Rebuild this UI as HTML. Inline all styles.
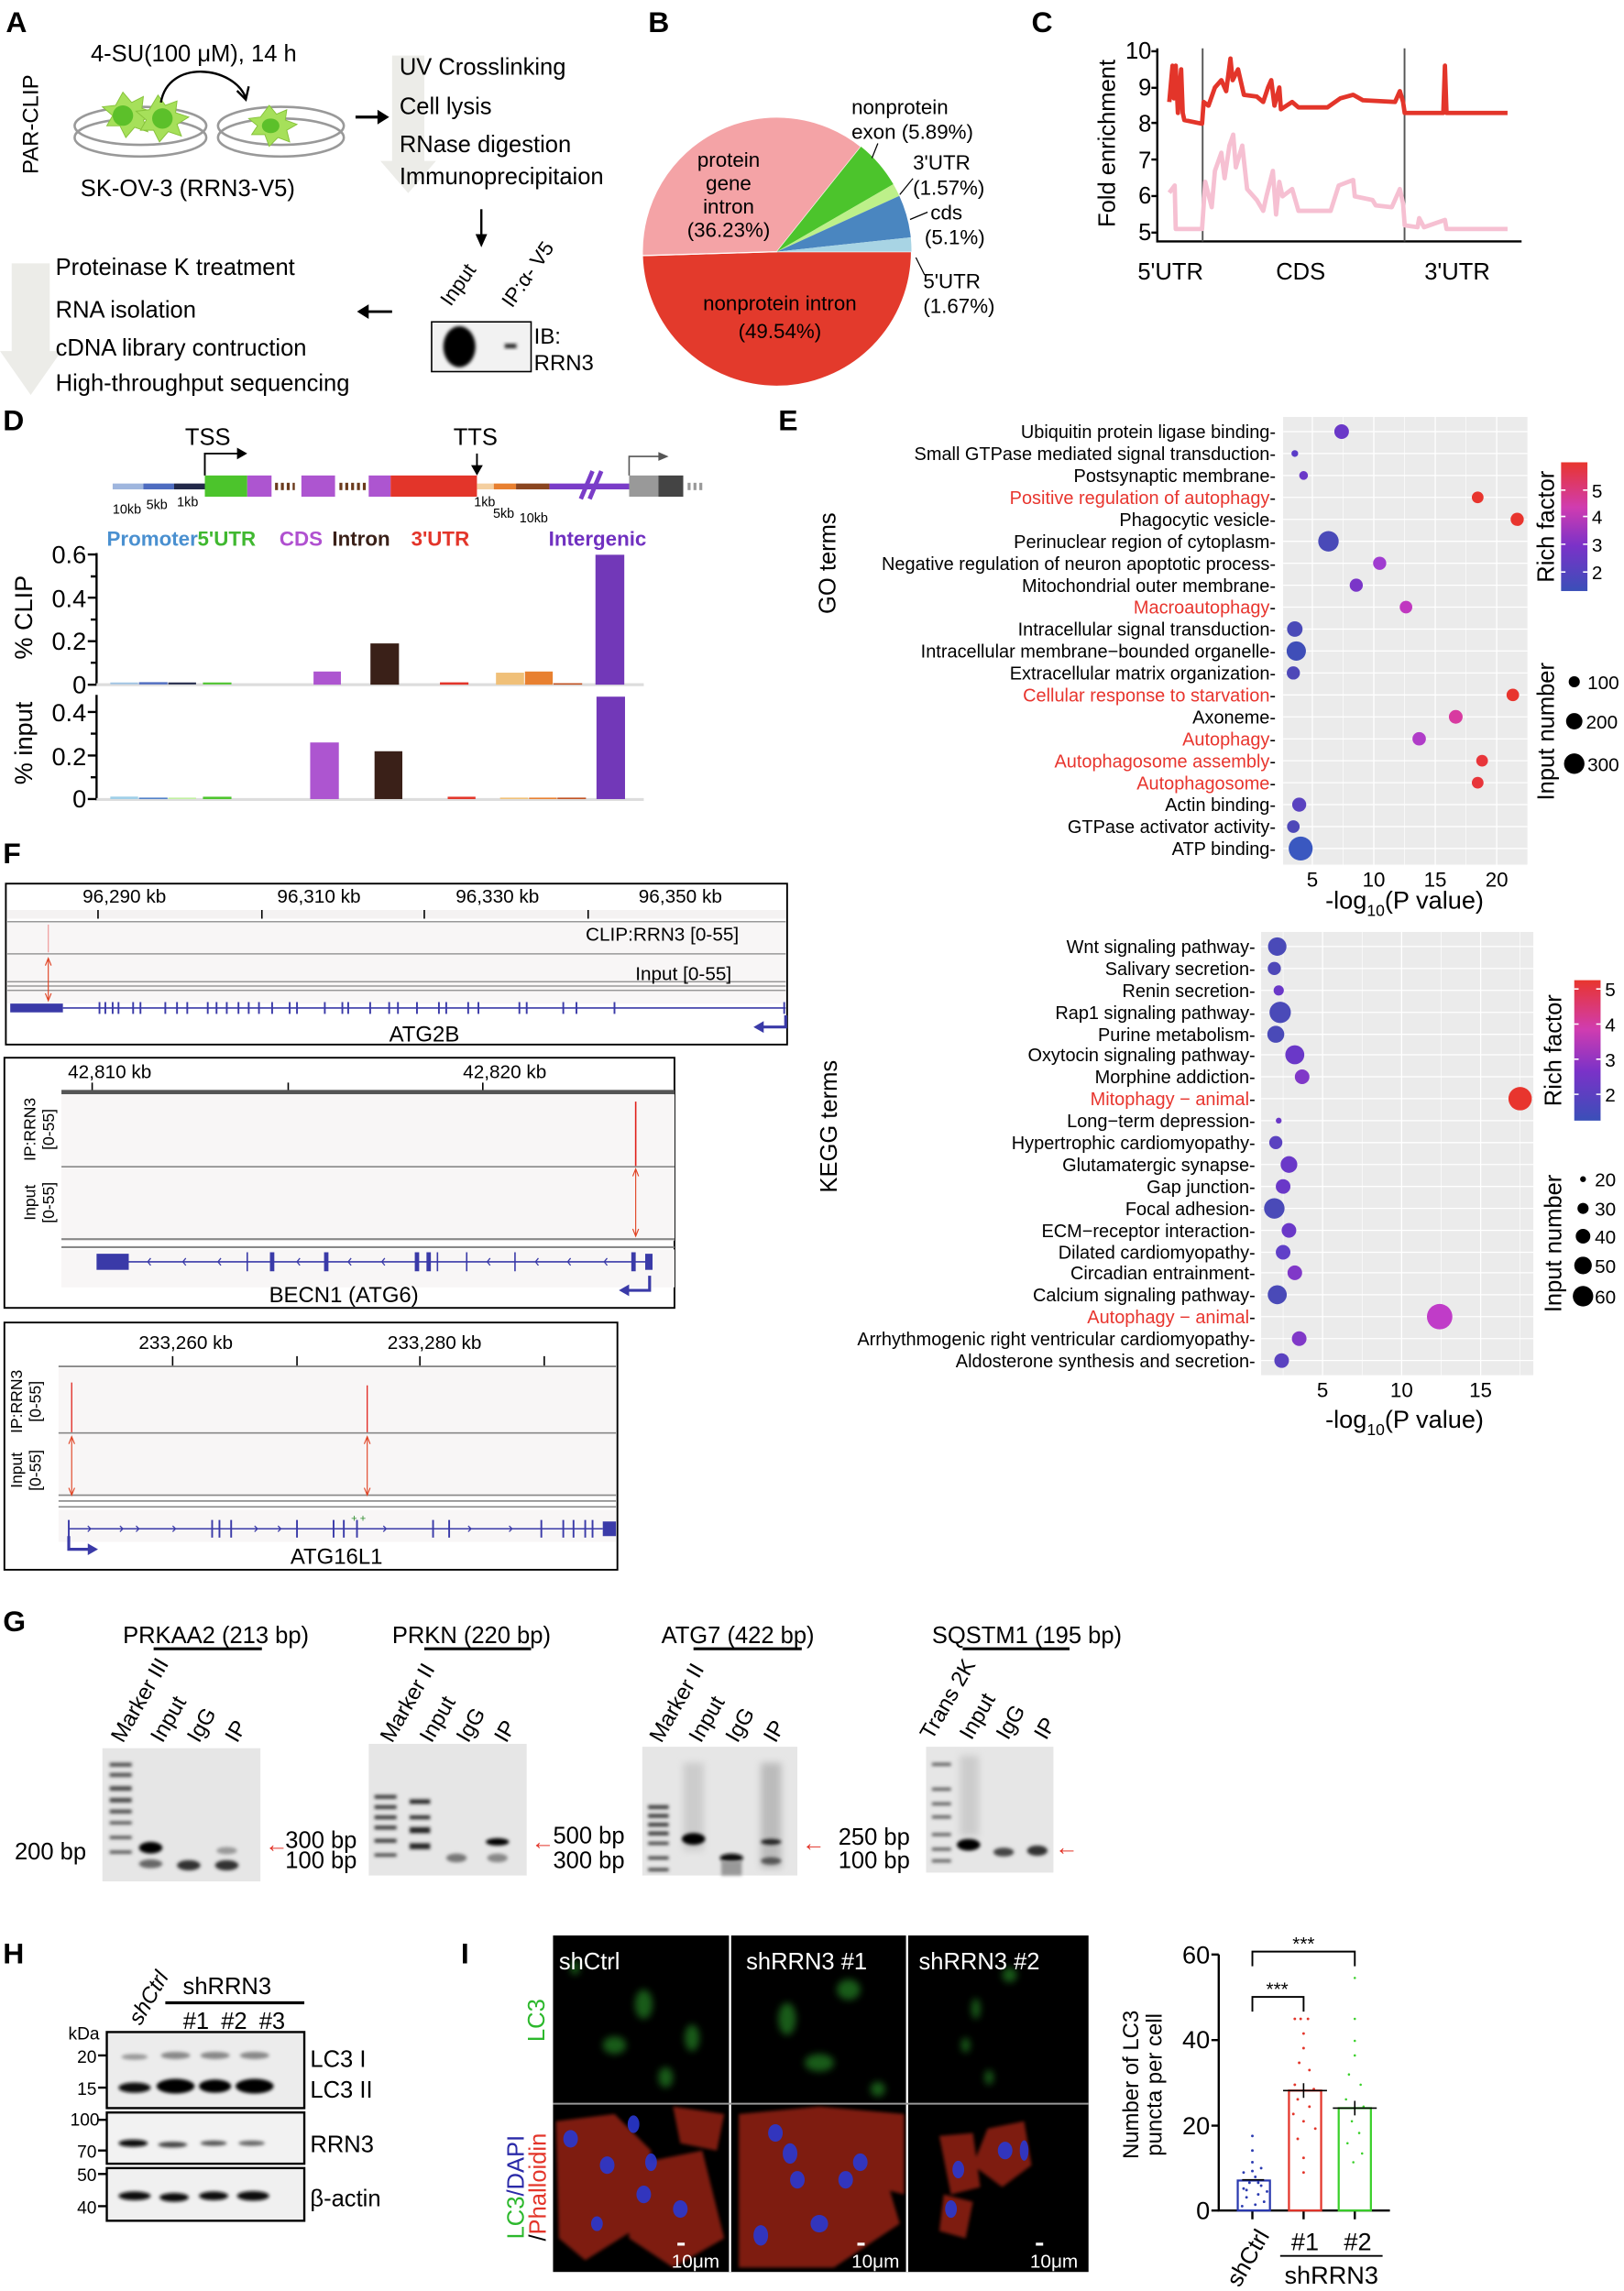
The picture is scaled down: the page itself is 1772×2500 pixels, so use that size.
<!DOCTYPE html>
<html><head><meta charset="utf-8"><style>
html,body{margin:0;padding:0;background:#fff}
svg{display:block}
text{font-family:"Liberation Sans",Arial,sans-serif}
</style></head><body>
<svg width="1772" height="2500" viewBox="0 0 1110 1566" xmlns="http://www.w3.org/2000/svg">
<defs>
<filter id="bl" x="-50%" y="-50%" width="200%" height="200%"><feGaussianBlur stdDeviation="1.2"/></filter>
<filter id="bl2" x="-50%" y="-50%" width="200%" height="200%"><feGaussianBlur stdDeviation="2.5"/></filter>
<linearGradient id="rf" x1="0" y1="1" x2="0" y2="0"><stop offset="0" stop-color="#3a4fb8"/><stop offset="0.35" stop-color="#7a32c8"/><stop offset="0.65" stop-color="#d03cb0"/><stop offset="1" stop-color="#e8352e"/></linearGradient>
</defs>
<rect width="1110" height="1566" fill="#fff"/>

<!-- ================= A ================= -->
<text x="4" y="22" font-size="20" font-weight="bold">A</text>
<text transform="translate(26,85) rotate(-90)" font-size="15" text-anchor="middle">PAR-CLIP</text>
<text x="62" y="42" font-size="16">4-SU(100 μM),  14 h</text>
<g fill="none" stroke="#999" stroke-width="1.6">
<ellipse cx="96" cy="86" rx="45" ry="13"/><ellipse cx="96" cy="94" rx="45" ry="13"/>
<ellipse cx="192" cy="86" rx="43" ry="13"/><ellipse cx="192" cy="94" rx="43" ry="13"/>
</g>
<g fill="#a6e05a" stroke="#86c23a" stroke-width="0.6">
<polygon points="84,63 90,70 98,66 97,74 106,77 98,82 101,90 92,87 86,94 82,86 73,86 77,79 70,73 79,72"/>
<polygon points="108,65 113,72 121,69 120,77 129,80 121,85 124,93 115,90 109,97 105,89 96,89 100,82 93,76 102,75"/>
<polygon points="184,72 189,78 196,75 195,82 203,85 196,89 198,97 190,94 184,100 181,92 172,92 176,86 170,81 178,80"/>
</g>
<ellipse cx="84" cy="79" rx="7" ry="7" fill="#5cc02a"/><ellipse cx="111" cy="81" rx="7" ry="7" fill="#5cc02a"/><ellipse cx="185" cy="86" rx="6" ry="5" fill="#5cc02a"/>
<path d="M110,70 C115,40 160,45 168,67" fill="none" stroke="#000" stroke-width="1.5"/>
<path d="M162,62 L168,68 L170,59" fill="none" stroke="#000" stroke-width="1.5"/>
<text x="55" y="134" font-size="16">SK-OV-3 (RRN3-V5)</text>
<path d="M243,80 L262,80" stroke="#000" stroke-width="2"/><polygon points="266,80 258,75 258,85" fill="#000"/>
<polygon points="268,38 290,38 290,110 298,110 279,132 260,110 268,110" fill="#ecece8"/>
<text x="273" y="51" font-size="16">UV Crosslinking</text>
<text x="273" y="78" font-size="16">Cell lysis</text>
<text x="273" y="104" font-size="16">RNase digestion</text>
<text x="273" y="126" font-size="16">Immunoprecipitaion</text>
<path d="M329,143 L329,165" stroke="#000" stroke-width="1.5"/><polygon points="329,169 325,160 333,160" fill="#000"/>
<text transform="translate(308,210) rotate(-55)" font-size="14">Input</text>
<text transform="translate(350,211) rotate(-55)" font-size="14">IP:α- V5</text>
<rect x="295" y="220" width="68" height="34" fill="#f2f2f2" stroke="#000" stroke-width="1"/>
<ellipse cx="314" cy="237" rx="11" ry="14" fill="#000" filter="url(#bl)"/>
<rect x="345" y="235" width="8" height="3" fill="#222" filter="url(#bl)"/>
<text x="365" y="235" font-size="15">IB:</text><text x="365" y="253" font-size="15">RRN3</text>
<path d="M250,213 L268,213" stroke="#000" stroke-width="1.8"/><polygon points="244,213 252,208 252,218" fill="#000"/>
<polygon points="8,180 34,180 34,240 42,240 21,270 0,240 8,240" fill="#ecece8"/>
<text x="38" y="188" font-size="16">Proteinase K treatment</text>
<text x="38" y="217" font-size="16">RNA isolation</text>
<text x="38" y="243" font-size="16">cDNA library contruction</text>
<text x="38" y="267" font-size="16">High-throughput sequencing</text>

<!-- ================= B ================= -->
<text x="443" y="22" font-size="20" font-weight="bold">B</text>
<path d="M531,172 L623,172 A92,92 0 0 1 439.04,174.7 Z" fill="#e33a2c" stroke="#fff" stroke-width="0.8"/>
<path d="M531,172 L439.04,174.7 A92,92 0 0 1 588.5,100.2 Z" fill="#f4a3a6" stroke="#fff" stroke-width="0.8"/>
<path d="M531,172 L588.5,100.2 A92,92 0 0 1 610.6,125.9 Z" fill="#4cc42c"/>
<path d="M531,172 L610.6,125.9 A92,92 0 0 1 614.7,133.9 Z" fill="#bdf08a"/>
<path d="M531,172 L614.7,133.9 A92,92 0 0 1 622.5,162.2 Z" fill="#4a86c0"/>
<path d="M531,172 L622.5,162.2 A92,92 0 0 1 623,172 Z" fill="#a8d4e4"/>
<g font-size="14" text-anchor="middle">
<text x="498" y="114">protein</text><text x="498" y="130">gene</text><text x="498" y="146">intron</text><text x="498" y="162">(36.23%)</text>
<text x="533" y="212">nonprotein intron</text><text x="533" y="231">(49.54%)</text>
</g>
<g font-size="14">
<text x="582" y="78">nonprotein</text><text x="582" y="95">exon (5.89%)</text>
<text x="624" y="116">3'UTR</text><text x="624" y="133">(1.57%)</text>
<text x="636" y="150">cds</text><text x="632" y="167">(5.1%)</text>
<text x="631" y="197">5'UTR</text><text x="631" y="214">(1.67%)</text>
</g>
<g stroke="#000" stroke-width="0.8" fill="none">
<path d="M600,98 L596,108"/><path d="M624,122 L615,133"/><path d="M634,145 L622,150"/><path d="M626,176 L632,188"/>
</g>

<!-- ================= C ================= -->
<text x="705" y="22" font-size="20" font-weight="bold">C</text>
<text transform="translate(762,98) rotate(-90)" font-size="16" text-anchor="middle">Fold enrichment</text>
<g font-size="16" text-anchor="end">
<text x="787" y="40">10</text><text x="787" y="65">9</text><text x="787" y="90">8</text><text x="787" y="115">7</text><text x="787" y="139">6</text><text x="787" y="164">5</text>
</g>
<g stroke="#000" stroke-width="1.5" fill="none">
<path d="M791,33 L791,165 L1040,165"/>
<path d="M787,35 L791,35 M787,60 L791,60 M787,84 L791,84 M787,109 L791,109 M787,134 L791,134 M787,159 L791,159"/>
</g>
<path d="M822,33 L822,165 M960,33 L960,165" stroke="#555" stroke-width="1.2" fill="none"/>
<polyline fill="none" stroke="#f6c0d2" stroke-width="3" stroke-linejoin="round" points="799.2,131.7 802.9,126.8 803.6,156.5 821.6,156.5 823.8,124.3 828.2,141.6 830.4,116.8 834.8,104.4 837,121.8 840.3,99.5 842.9,92 844.7,114.4 849.1,99.5 852.4,129.2 859,136.7 863.4,144.1 865.6,134.2 870,116.8 872.2,146.6 874.4,124.3 876.6,134.2 883.2,129.2 887.5,144.1 909.5,144.1 915,126.8 924.9,123 926,134.2 938.1,136.7 940.3,140.4 951.3,141.6 956.8,129.2 959,139.2 960.1,154 968.9,155.3 970,149.1 973.3,155.3 987.6,150.3 988.7,156.5 1030.4,156.5"/>
<polyline fill="none" stroke="#e3352a" stroke-width="3" stroke-linejoin="round" points="799.2,69.7 801.4,44.9 802.3,67.2 803.6,44.9 805.1,77.2 807.3,47.4 808.4,77.2 809.5,82.1 821.6,84.6 822.7,69.7 826,72.2 830.4,59.8 834.8,54.8 838.1,62.3 841,40 842.5,54.8 846.2,47.4 850.2,64.8 859,66 863.4,69.7 866.7,59.8 868.9,54.8 871.1,72.2 874.4,59.8 875.5,74.7 883.2,69.7 887.5,73.4 907.3,73.4 916.1,67.2 924.9,64.8 931.5,68.5 953.5,69.7 956.8,62.3 959,69.7 960.1,77.2 986.5,77.2 987.6,44.9 988.7,77.2 1030.4,77.2"/>
<g font-size="16" text-anchor="middle"><text x="800" y="191">5'UTR</text><text x="889" y="191">CDS</text><text x="996" y="191">3'UTR</text></g>

<!-- ================= D ================= -->
<text x="2" y="294" font-size="20" font-weight="bold">D</text>
<text x="142" y="304" font-size="16" text-anchor="middle">TSS</text>
<text x="325" y="304" font-size="16" text-anchor="middle">TTS</text>
<path d="M140,325 L140,310 L164,310" fill="none" stroke="#000" stroke-width="1.2"/><polygon points="169,310 162,306 162,314" fill="#000"/>
<path d="M326,310 L326,320" stroke="#000" stroke-width="1.2"/><polygon points="326,325 322,318 330,318" fill="#000"/>
<rect x="77" y="330.5" width="21" height="4" fill="#9fb6de"/><rect x="98" y="330.5" width="21" height="4" fill="#4e6cc0"/><rect x="119" y="330.5" width="21" height="4" fill="#22294a"/>
<rect x="140" y="325" width="29" height="14.5" fill="#4cc42c"/><rect x="169" y="325" width="16.6" height="14.5" fill="#ad55d0"/>
<g fill="#6a3a1c"><rect x="188" y="330" width="2" height="5"/><rect x="192" y="330" width="2" height="5"/><rect x="196" y="330" width="2" height="5"/><rect x="200" y="330" width="1.5" height="5"/>
<rect x="232" y="330" width="2" height="5"/><rect x="236" y="330" width="2" height="5"/><rect x="240" y="330" width="2" height="5"/><rect x="244" y="330" width="2" height="5"/><rect x="248" y="330" width="2" height="5"/></g>
<rect x="206" y="325" width="23" height="14.5" fill="#ad55d0"/>
<rect x="252" y="325" width="15" height="14.5" fill="#ad55d0"/><rect x="267" y="325" width="59" height="14.5" fill="#e3352a"/>
<rect x="326" y="330.5" width="11.5" height="4" fill="#f4cfa0"/><rect x="337.5" y="330.5" width="15.2" height="4" fill="#e88030"/><rect x="352.7" y="330.5" width="22.8" height="4" fill="#8a4520"/>
<rect x="375.5" y="330.5" width="55" height="4" fill="#7a3cc8"/>
<path d="M397,341 L405,322 M403,341 L411,322" stroke="#7a3cc8" stroke-width="3"/>
<rect x="430" y="325" width="20" height="14.5" fill="#999"/><rect x="450" y="325" width="17" height="14.5" fill="#444"/>
<g fill="#999"><rect x="470" y="330" width="2" height="5"/><rect x="474" y="330" width="2" height="5"/><rect x="478" y="330" width="2" height="5"/></g>
<path d="M430,325 L430,312 L452,312" fill="none" stroke="#555" stroke-width="1"/><polygon points="457,312 450,309 450,315" fill="#555"/>
<g font-size="9"><text x="77" y="351">10kb</text><text x="100" y="348">5kb</text><text x="121" y="346">1kb</text><text x="324" y="346">1kb</text><text x="337" y="354">5kb</text><text x="355" y="357">10kb</text></g>
<g font-size="14" font-weight="bold">
<text x="73" y="373" fill="#4a90d0">Promoter</text><text x="135" y="373" fill="#40b830">5'UTR</text>
<text x="191" y="373" fill="#b050d0">CDS</text><text x="227" y="373" fill="#3a2018">Intron</text>
<text x="281" y="373" fill="#e3352a">3'UTR</text><text x="375" y="373" fill="#7030c0">Intergenic</text>
</g>
<!-- CLIP axis -->
<g stroke="#000" stroke-width="1.5" fill="none"><path d="M66,378 L66,468"/>
<path d="M60,379 L66,379 M62,394 L66,394 M60,408.5 L66,408.5 M62,423.5 L66,423.5 M60,438.3 L66,438.3 M62,453 L66,453 M60,468 L66,468"/></g>
<g font-size="17" text-anchor="end"><text x="59" y="385">0.6</text><text x="59" y="415">0.4</text><text x="59" y="444">0.2</text><text x="59" y="474">0</text></g>
<text transform="translate(22,422) rotate(-90)" font-size="17" text-anchor="middle">% CLIP</text>
<rect x="66" y="467" width="374" height="2" fill="#ddd"/>
<rect x="75.4" y="466.5" width="19" height="1.2" fill="#a0c4e4"/><rect x="95" y="466.3" width="19.5" height="1.5" fill="#4e6cc0"/><rect x="115" y="466.5" width="19" height="1.3" fill="#22294a"/><rect x="138.7" y="466.5" width="19.5" height="1.3" fill="#4cc42c"/>
<rect x="214.3" y="459" width="18.7" height="9" fill="#ad55d0"/>
<rect x="253.2" y="439.8" width="19.5" height="28.2" fill="#3a2018"/>
<rect x="300.7" y="466.4" width="19.5" height="1.6" fill="#e3352a"/>
<rect x="339" y="459.8" width="19.2" height="8.2" fill="#f0c078"/><rect x="358.8" y="459" width="19" height="9" fill="#e88030"/><rect x="378.3" y="467" width="19.6" height="1" fill="#c05020"/>
<rect x="407" y="379.2" width="19.7" height="88.8" fill="#7238b8"/>
<!-- input axis -->
<g stroke="#000" stroke-width="1.5" fill="none"><path d="M66,475 L66,547"/>
<path d="M60,486.7 L66,486.7 M62,501.5 L66,501.5 M60,516.4 L66,516.4 M62,531.3 L66,531.3 M60,546.2 L66,546.2"/></g>
<g font-size="17" text-anchor="end"><text x="59" y="493">0.4</text><text x="59" y="523">0.2</text><text x="59" y="552">0</text></g>
<text transform="translate(22,508) rotate(-90)" font-size="17" text-anchor="middle">% input</text>
<rect x="66" y="545.5" width="374" height="2" fill="#ddd"/>
<rect x="75.4" y="544.5" width="19" height="1.7" fill="#a0d0e8"/><rect x="95" y="545.2" width="19.5" height="1" fill="#5080c8"/><rect x="115" y="545.2" width="19" height="1" fill="#c0f0a0"/><rect x="138.7" y="544.6" width="19.5" height="1.6" fill="#4cc42c"/>
<rect x="212" y="507.5" width="19.6" height="38.7" fill="#ad55d0"/>
<rect x="256" y="513.5" width="19" height="32.7" fill="#3a2018"/>
<rect x="306" y="544.6" width="19" height="1.6" fill="#e3352a"/>
<rect x="341.8" y="545.2" width="19.2" height="1" fill="#f0c078"/><rect x="361.6" y="545.2" width="19" height="1" fill="#e88030"/><rect x="381" y="545.2" width="19.5" height="1" fill="#c05020"/>
<rect x="407.7" y="476.2" width="19.5" height="70" fill="#7238b8"/>

<!-- ================= E GO ================= -->
<text x="532" y="294" font-size="20" font-weight="bold">E</text>
<text transform="translate(571,385) rotate(-90)" font-size="16" text-anchor="middle">GO terms</text>
<rect x="877" y="285" width="167" height="306" fill="#ebebeb"/>
<g stroke="#fff" stroke-width="0.8" fill="none">
<path d="M877,295 H1044 M877,310 H1044 M877,325 H1044 M877,340 H1044 M877,355 H1044 M877,370 H1044 M877,385 H1044 M877,400 H1044 M877,415 H1044 M877,430 H1044 M877,445 H1044 M877,460 H1044 M877,475 H1044 M877,490 H1044 M877,505 H1044 M877,520 H1044 M877,535 H1044 M877,550 H1044 M877,565 H1044 M877,580 H1044"/>
<path d="M897,285 V591 M939,285 V591 M981,285 V591 M1023,285 V591"/>
<path d="M918,285 V591 M960,285 V591 M1002,285 V591" stroke-width="0.4"/>
</g>
<g font-size="12.5" text-anchor="end">
<text x="872" y="299.5">Ubiquitin protein ligase binding-</text>
<text x="872" y="314.5">Small GTPase mediated signal transduction-</text>
<text x="872" y="329.5">Postsynaptic membrane-</text>
<text x="872" y="344.5" fill="#e8352e">Positive regulation of autophagy<tspan fill="#000">-</tspan></text>
<text x="872" y="359.5">Phagocytic vesicle-</text>
<text x="872" y="374.5">Perinuclear region of cytoplasm-</text>
<text x="872" y="389.5">Negative regulation of neuron apoptotic process-</text>
<text x="872" y="404.5">Mitochondrial outer membrane-</text>
<text x="872" y="419.5" fill="#e8352e">Macroautophagy<tspan fill="#000">-</tspan></text>
<text x="872" y="434.5">Intracellular signal transduction-</text>
<text x="872" y="449.5">Intracellular membrane−bounded organelle-</text>
<text x="872" y="464.5">Extracellular matrix organization-</text>
<text x="872" y="479.5" fill="#e8352e">Cellular response to starvation<tspan fill="#000">-</tspan></text>
<text x="872" y="494.5">Axoneme-</text>
<text x="872" y="509.5" fill="#e8352e">Autophagy<tspan fill="#000">-</tspan></text>
<text x="872" y="524.5" fill="#e8352e">Autophagosome assembly<tspan fill="#000">-</tspan></text>
<text x="872" y="539.5" fill="#e8352e">Autophagosome<tspan fill="#000">-</tspan></text>
<text x="872" y="554.5">Actin binding-</text>
<text x="872" y="569.5">GTPase activator activity-</text>
<text x="872" y="584.5">ATP binding-</text>
</g>
<g>
<circle cx="917" cy="295" r="5" fill="#6a38c8"/><circle cx="885" cy="310" r="2.3" fill="#5a3cc8"/><circle cx="891" cy="325" r="3" fill="#6a38c8"/>
<circle cx="1010" cy="340" r="4" fill="#e8352e"/><circle cx="1037" cy="355" r="4.5" fill="#e8352e"/><circle cx="908" cy="370" r="7" fill="#4a4ab8"/>
<circle cx="943" cy="385" r="4.5" fill="#a03cd0"/><circle cx="927" cy="400" r="4.5" fill="#7a36c8"/><circle cx="961" cy="415" r="4.3" fill="#c038c0"/>
<circle cx="885" cy="430" r="5.3" fill="#4a4ab8"/><circle cx="886" cy="445" r="6.6" fill="#3f4eb8"/><circle cx="884" cy="460" r="4.5" fill="#4e48b8"/>
<circle cx="1034" cy="475" r="4.3" fill="#e8352e"/><circle cx="995" cy="490" r="4.7" fill="#d83aa0"/><circle cx="970" cy="505" r="4.6" fill="#b03cc8"/>
<circle cx="1013" cy="520" r="4" fill="#e8353a"/><circle cx="1010" cy="535" r="4" fill="#e8353a"/><circle cx="888" cy="550" r="4.8" fill="#5a42c0"/>
<circle cx="884" cy="565" r="4.3" fill="#4e48b8"/><circle cx="889" cy="580" r="8.2" fill="#3a58c0"/>
</g>
<g font-size="14" text-anchor="middle"><text x="897" y="606">5</text><text x="939" y="606">10</text><text x="981" y="606">15</text><text x="1023" y="606">20</text></g>
<text x="960" y="621" font-size="17" text-anchor="middle">-log<tspan font-size="11" dy="5">10</tspan><tspan dy="-5">(P value)</tspan></text>
<text transform="translate(1062,360) rotate(-90)" font-size="16" text-anchor="middle">Rich factor</text>
<rect x="1067" y="316" width="18" height="88" fill="url(#rf)"/>
<g stroke="#fff" stroke-width="1" fill="none"><path d="M1067,335 h3 M1082,335 h3 M1067,353 h3 M1082,353 h3 M1067,372 h3 M1082,372 h3 M1067,391 h3 M1082,391 h3"/></g>
<g font-size="13"><text x="1088" y="340">5</text><text x="1088" y="358">4</text><text x="1088" y="377">3</text><text x="1088" y="396">2</text></g>
<text transform="translate(1062,500) rotate(-90)" font-size="16" text-anchor="middle">Input number</text>
<circle cx="1076" cy="466" r="3.8" fill="#000"/><circle cx="1076" cy="493" r="5.6" fill="#000"/><circle cx="1076" cy="522" r="7" fill="#000"/>
<g font-size="13"><text x="1085" y="471">100</text><text x="1084" y="498">200</text><text x="1085" y="527">300</text></g>

<!-- ================= E KEGG ================= -->
<text transform="translate(572,770) rotate(-90)" font-size="16" text-anchor="middle">KEGG terms</text>
<rect x="862" y="637" width="186" height="303" fill="#ebebeb"/>
<g stroke="#fff" stroke-width="0.8" fill="none">
<path d="M862,647 H1048 M862,662 H1048 M862,677 H1048 M862,692 H1048 M862,707 H1048 M862,721 H1048 M862,736 H1048 M862,751 H1048 M862,766 H1048 M862,781 H1048 M862,796 H1048 M862,811 H1048 M862,826 H1048 M862,841 H1048 M862,856 H1048 M862,870 H1048 M862,885 H1048 M862,900 H1048 M862,915 H1048 M862,930 H1048"/>
<path d="M904,637 V940 M958,637 V940 M1012,637 V940"/>
<path d="M877,637 V940 M931,637 V940 M985,637 V940 M1039,637 V940" stroke-width="0.4"/>
</g>
<g font-size="12.5" text-anchor="end">
<text x="858" y="651.5">Wnt signaling pathway-</text>
<text x="858" y="666.5">Salivary secretion-</text>
<text x="858" y="681.5">Renin secretion-</text>
<text x="858" y="696.5">Rap1 signaling pathway-</text>
<text x="858" y="711.5">Purine metabolism-</text>
<text x="858" y="725.5">Oxytocin signaling pathway-</text>
<text x="858" y="740.5">Morphine addiction-</text>
<text x="858" y="755.5" fill="#e8352e">Mitophagy − animal<tspan fill="#000">-</tspan></text>
<text x="858" y="770.5">Long−term depression-</text>
<text x="858" y="785.5">Hypertrophic cardiomyopathy-</text>
<text x="858" y="800.5">Glutamatergic synapse-</text>
<text x="858" y="815.5">Gap junction-</text>
<text x="858" y="830.5">Focal adhesion-</text>
<text x="858" y="845.5">ECM−receptor interaction-</text>
<text x="858" y="860.5">Dilated cardiomyopathy-</text>
<text x="858" y="874.5">Circadian entrainment-</text>
<text x="858" y="889.5">Calcium signaling pathway-</text>
<text x="858" y="904.5" fill="#e8352e">Autophagy − animal<tspan fill="#000">-</tspan></text>
<text x="858" y="919.5">Arrhythmogenic right ventricular cardiomyopathy-</text>
<text x="858" y="934.5">Aldosterone synthesis and secretion-</text>
</g>
<g>
<circle cx="873" cy="647" r="6.3" fill="#4a4ab8"/><circle cx="871" cy="662" r="4.5" fill="#4e48b8"/><circle cx="874" cy="677" r="3.5" fill="#6a38c8"/>
<circle cx="875" cy="692" r="7.3" fill="#4a4ab8"/><circle cx="872" cy="707" r="5.8" fill="#4a4ab8"/><circle cx="885" cy="721" r="6.5" fill="#6a38c8"/>
<circle cx="890" cy="736" r="5" fill="#8038c8"/><circle cx="1039" cy="751" r="8" fill="#e8352e"/><circle cx="874" cy="766" r="2" fill="#6a38c8"/>
<circle cx="872" cy="781" r="4.5" fill="#5a42c0"/><circle cx="881" cy="796" r="5.7" fill="#6a38c8"/><circle cx="877" cy="811" r="5" fill="#6a38c8"/>
<circle cx="871" cy="826" r="7" fill="#4a4ab8"/><circle cx="881" cy="841" r="5" fill="#6a38c8"/><circle cx="877" cy="856" r="5" fill="#6040c8"/>
<circle cx="885" cy="870" r="5" fill="#8038c8"/><circle cx="873" cy="885" r="6.5" fill="#4a4ab8"/><circle cx="984" cy="900" r="8.7" fill="#c03cc8"/>
<circle cx="888" cy="915" r="5" fill="#8038c8"/><circle cx="876" cy="930" r="5" fill="#5a42c0"/>
</g>
<g font-size="14" text-anchor="middle"><text x="904" y="955">5</text><text x="958" y="955">10</text><text x="1012" y="955">15</text></g>
<text x="960" y="976" font-size="17" text-anchor="middle">-log<tspan font-size="11" dy="5">10</tspan><tspan dy="-5">(P value)</tspan></text>
<text transform="translate(1067,718) rotate(-90)" font-size="16" text-anchor="middle">Rich factor</text>
<rect x="1076" y="670" width="18" height="96" fill="url(#rf)"/>
<g stroke="#fff" stroke-width="1" fill="none"><path d="M1076,676 h3 M1091,676 h3 M1076,700 h3 M1091,700 h3 M1076,724 h3 M1091,724 h3 M1076,748 h3 M1091,748 h3"/></g>
<g font-size="13"><text x="1097" y="681">5</text><text x="1097" y="705">4</text><text x="1097" y="729">3</text><text x="1097" y="753">2</text></g>
<text transform="translate(1067,850) rotate(-90)" font-size="16" text-anchor="middle">Input number</text>
<circle cx="1082" cy="806" r="2" fill="#000"/><circle cx="1082" cy="826" r="3.8" fill="#000"/><circle cx="1082" cy="845" r="5" fill="#000"/><circle cx="1082" cy="865" r="6" fill="#000"/><circle cx="1082" cy="886" r="7" fill="#000"/>
<g font-size="13"><text x="1090" y="811">20</text><text x="1090" y="831">30</text><text x="1090" y="850">40</text><text x="1090" y="870">50</text><text x="1090" y="891">60</text></g>

<!-- ================= F ================= -->
<text x="2" y="590" font-size="20" font-weight="bold">F</text>
<!-- ATG2B -->
<rect x="4" y="604" width="534" height="110" fill="#fff" stroke="#000" stroke-width="1.2"/>
<g font-size="13" text-anchor="middle"><text x="85" y="617">96,290 kb</text><text x="218" y="617">96,310 kb</text><text x="340" y="617">96,330 kb</text><text x="465" y="617">96,350 kb</text></g>
<rect x="5" y="622" width="532" height="6" fill="#f4f2f2"/>
<path d="M67,622 V628 M179,622 V628 M290,622 V628 M402,622 V628" stroke="#000" fill="none"/>
<rect x="5" y="630" width="532" height="56" fill="#f8f6f6"/>
<path d="M5,630 H537 M5,652 H537" stroke="#999" stroke-width="1" fill="none"/>
<path d="M5,671 H537 M5,674 H537 M5,677 H537" stroke="#888" stroke-width="0.8" fill="none"/>
<text x="505" y="643" font-size="13" text-anchor="end">CLIP:RRN3 [0-55]</text>
<text x="500" y="670" font-size="13" text-anchor="end">Input [0-55]</text>
<path d="M33,632 V651" stroke="#f0a0a0" stroke-width="0.8"/>
<path d="M33,656 V683" stroke="#e04020" stroke-width="0.7"/>
<path d="M31,660 L33,655 L35,660 M31,679 L33,684 L35,679" stroke="#e04020" stroke-width="0.7" fill="none"/>
<rect x="7" y="686" width="36" height="6" fill="#3a3aa8"/>
<path d="M43,689 H537" stroke="#3a3aa8" stroke-width="1"/>
<g stroke="#3a3aa8" stroke-width="1.2" fill="none"><path d="M68,685 v8 M72,685 v8 M77,685 v8 M81,685 v8 M91,685 v8 M96,685 v8 M113,685 v8 M121,685 v8 M128,685 v8 M142,685 v8 M148,685 v8 M155,685 v8 M163,685 v8 M170,685 v8 M177,685 v8 M186,685 v8 M198,685 v8 M203,685 v8 M222,685 v8 M234,685 v8 M238,685 v8 M253,685 v8 M266,685 v8 M272,685 v8 M285,685 v8 M300,685 v8 M305,685 v8 M320,685 v8 M327,685 v8 M355,685 v8 M360,685 v8 M385,685 v8 M394,685 v8 M420,685 v8 M536,685 v8"/></g>
<text x="290" y="712" font-size="15" text-anchor="middle">ATG2B</text>
<path d="M537,694 V702 H520" fill="none" stroke="#3a3aa8" stroke-width="2"/><polygon points="515,702 522,698 522,706" fill="#3a3aa8"/>
<!-- BECN1 -->
<rect x="3" y="723" width="458" height="171" fill="#fff" stroke="#000" stroke-width="1.2"/>
<g font-size="13" text-anchor="middle"><text x="75" y="737">42,810 kb</text><text x="345" y="737">42,820 kb</text></g>
<path d="M63,740 V746 M197,740 V746 M330,740 V746" stroke="#000" fill="none"/>
<rect x="42" y="745" width="419" height="3" fill="#555"/>
<rect x="42" y="748" width="419" height="100" fill="#f8f6f6"/>
<path d="M42,797.5 H461" stroke="#888" fill="none"/>
<path d="M42,847 H461 M42,852.5 H461" stroke="#888" stroke-width="1.3" fill="none"/>
<text transform="translate(24,772) rotate(-90)" font-size="11" text-anchor="middle">IP:RRN3</text>
<text transform="translate(37,772) rotate(-90)" font-size="11" text-anchor="middle">[0-55]</text>
<text transform="translate(24,822) rotate(-90)" font-size="11" text-anchor="middle">Input</text>
<text transform="translate(37,822) rotate(-90)" font-size="11" text-anchor="middle">[0-55]</text>
<path d="M434.5,753 V797" stroke="#e0201a" stroke-width="1"/>
<path d="M434.5,800 V844" stroke="#e04020" stroke-width="0.7"/>
<path d="M432.5,804 L434.5,799 L436.5,804 M432.5,840 L434.5,845 L436.5,840" stroke="#e04020" stroke-width="0.7" fill="none"/>
<rect x="42" y="854" width="419" height="26" fill="#f8f6f6"/>
<rect x="66" y="857" width="22" height="11" fill="#3a3aa8"/>
<path d="M88,862.5 H445" stroke="#3a3aa8" stroke-width="1"/>
<g stroke="#3a3aa8" fill="none"><path d="M169,856 v13 M299,856 v13 M319,856 v13 M352,856 v13" stroke-width="1"/><path d="M186,856 v13 M223,856 v13 M285,856 v13 M293,856 v13 M433,856 v13" stroke-width="3"/></g>
<rect x="441" y="857" width="5" height="11" fill="#3a3aa8"/>
<g fill="none" stroke="#3a3aa8" stroke-width="0.8"><path d="M103,860 l-2,2.5 l2,2.5 M127,860 l-2,2.5 l2,2.5 M151,860 l-2,2.5 l2,2.5 M205,860 l-2,2.5 l2,2.5 M240,860 l-2,2.5 l2,2.5 M263,860 l-2,2.5 l2,2.5 M335,860 l-2,2.5 l2,2.5 M368,860 l-2,2.5 l2,2.5 M390,860 l-2,2.5 l2,2.5 M415,860 l-2,2.5 l2,2.5"/></g>
<text x="235" y="890" font-size="15" text-anchor="middle">BECN1 (ATG6)</text>
<path d="M444,872 V882 H428" fill="none" stroke="#3a3aa8" stroke-width="2"/><polygon points="423,882 430,878 430,886" fill="#3a3aa8"/>
<!-- ATG16L1 -->
<rect x="3" y="904" width="419" height="169" fill="#fff" stroke="#000" stroke-width="1.2"/>
<g font-size="13" text-anchor="middle"><text x="127" y="922">233,260 kb</text><text x="297" y="922">233,280 kb</text></g>
<path d="M118,927 V934 M203,927 V934 M287,927 V934 M372,927 V934" stroke="#000" fill="none"/>
<path d="M40,934 H421" stroke="#888" stroke-width="1.2" fill="none"/>
<rect x="40" y="935" width="381" height="88" fill="#f8f6f6"/>
<path d="M40,979.5 H421" stroke="#888" fill="none"/>
<path d="M40,1022 H421 M40,1026 H421 M40,1030 H421" stroke="#888" stroke-width="1" fill="none"/>
<text transform="translate(15,958) rotate(-90)" font-size="11" text-anchor="middle">IP:RRN3</text>
<text transform="translate(28,958) rotate(-90)" font-size="11" text-anchor="middle">[0-55]</text>
<text transform="translate(15,1005) rotate(-90)" font-size="11" text-anchor="middle">Input</text>
<text transform="translate(28,1005) rotate(-90)" font-size="11" text-anchor="middle">[0-55]</text>
<path d="M49,945 V979 M251,947 V979" stroke="#e0201a" stroke-width="0.8" fill="none"/>
<path d="M49,983 V1021 M251,983 V1021" stroke="#e04020" stroke-width="0.7" fill="none"/>
<path d="M47,987 L49,982 L51,987 M47,1017 L49,1022 L51,1017 M249,987 L251,982 L253,987 M249,1017 L251,1022 L253,1017" stroke="#e04020" stroke-width="0.7" fill="none"/>
<rect x="40" y="1032" width="381" height="22" fill="#f8f6f6"/>
<path d="M47,1045 H412" stroke="#3a3aa8" stroke-width="1"/>
<rect x="412" y="1040" width="9" height="10" fill="#3a3aa8"/>
<g stroke="#3a3aa8" stroke-width="1.2" fill="none"><path d="M47,1039 v12 M145,1039 v12 M150,1039 v12 M158,1039 v12 M203,1039 v12 M228,1039 v12 M235,1039 v12 M244,1039 v12 M296,1039 v12 M307,1039 v12 M370,1039 v12 M385,1039 v12 M392,1039 v12 M400,1039 v12 M405,1039 v12"/></g>
<g fill="none" stroke="#3a3aa8" stroke-width="0.8"><path d="M60,1043 l2,2 l-2,2 M82,1043 l2,2 l-2,2 M93,1043 l2,2 l-2,2 M118,1043 l2,2 l-2,2 M174,1043 l2,2 l-2,2 M190,1043 l2,2 l-2,2 M262,1043 l2,2 l-2,2 M320,1043 l2,2 l-2,2 M348,1043 l2,2 l-2,2"/></g>
<g fill="#2a8a2a" font-size="7"><text x="240" y="1040">+ +</text></g>
<text x="230" y="1069" font-size="15" text-anchor="middle">ATG16L1</text>
<path d="M47,1050 V1059 H62" fill="none" stroke="#3a3aa8" stroke-width="2"/><polygon points="67,1059 60,1055 60,1063" fill="#3a3aa8"/>

<!-- ================= G ================= -->
<text x="2" y="1115" font-size="20" font-weight="bold">G</text>
<g font-size="16">
<text x="84" y="1123">PRKAA2 (213 bp)</text><text x="268" y="1123">PRKN (220 bp)</text><text x="452" y="1123">ATG7 (422 bp)</text><text x="637" y="1123">SQSTM1 (195 bp)</text>
</g>
<g stroke="#000" stroke-width="2" fill="none"><path d="M105,1127 H179 M290,1127 H363 M474,1127 H548 M658,1127 H731"/></g>
<g font-size="15">
<text transform="translate(84,1192) rotate(-60)">Marker III</text><text transform="translate(111,1192) rotate(-60)">Input</text><text transform="translate(136,1192) rotate(-60)">IgG</text><text transform="translate(162,1192) rotate(-60)">IP</text>
<text transform="translate(268,1192) rotate(-60)">Marker II</text><text transform="translate(295,1192) rotate(-60)">Input</text><text transform="translate(320,1192) rotate(-60)">IgG</text><text transform="translate(346,1192) rotate(-60)">IP</text>
<text transform="translate(452,1192) rotate(-60)">Marker II</text><text transform="translate(479,1192) rotate(-60)">Input</text><text transform="translate(504,1192) rotate(-60)">IgG</text><text transform="translate(530,1192) rotate(-60)">IP</text>
<text transform="translate(637,1190) rotate(-60)">Trans 2K</text><text transform="translate(664,1190) rotate(-60)">Input</text><text transform="translate(689,1190) rotate(-60)">IgG</text><text transform="translate(715,1190) rotate(-60)">IP</text>
</g>
<!-- gel1 -->
<rect x="70" y="1195" width="108" height="91" fill="#e6e6e6"/>
<g fill="#444" filter="url(#bl)"><rect x="75" y="1205" width="15" height="2.5"/><rect x="75" y="1212" width="15" height="2.5"/><rect x="75" y="1221" width="15" height="3"/><rect x="75" y="1229" width="15" height="3"/><rect x="75" y="1237" width="15" height="2.5"/><rect x="75" y="1245" width="15" height="2"/><rect x="75" y="1255" width="15" height="2"/><rect x="75" y="1265" width="15" height="2"/></g>
<ellipse cx="103" cy="1263" rx="8" ry="4" fill="#000" filter="url(#bl)"/><ellipse cx="103" cy="1274" rx="8" ry="3" fill="#666" filter="url(#bl)"/>
<ellipse cx="129" cy="1275" rx="8" ry="3.5" fill="#333" filter="url(#bl)"/><ellipse cx="155" cy="1275" rx="8" ry="3.5" fill="#333" filter="url(#bl)"/><ellipse cx="155" cy="1265" rx="7" ry="2.5" fill="#999" filter="url(#bl)"/>
<text x="10" y="1271" font-size="16">200 bp</text>
<text x="181" y="1266" font-size="16" fill="#e3352a">←</text>
<text x="195" y="1263" font-size="16">300 bp</text><text x="195" y="1277" font-size="16">100 bp</text>
<!-- gel2 -->
<rect x="252" y="1192" width="108" height="90" fill="#e6e6e6"/>
<g fill="#333" filter="url(#bl)"><rect x="256" y="1227" width="15" height="2.5"/><rect x="256" y="1234" width="15" height="2.5"/><rect x="256" y="1241" width="15" height="2.5"/><rect x="256" y="1248" width="15" height="2.5"/><rect x="256" y="1257" width="15" height="2.5"/><rect x="256" y="1267" width="15" height="2"/></g>
<g fill="#222" filter="url(#bl)"><rect x="280" y="1230" width="14" height="3"/><rect x="280" y="1241" width="14" height="2.5"/><rect x="280" y="1249" width="14" height="4"/><rect x="280" y="1260" width="14" height="4"/></g>
<ellipse cx="312" cy="1270" rx="7" ry="3" fill="#777" filter="url(#bl)"/><ellipse cx="340" cy="1259" rx="8" ry="2.5" fill="#000" filter="url(#bl)"/><ellipse cx="340" cy="1270" rx="7" ry="3" fill="#888" filter="url(#bl)"/>
<text x="363" y="1264" font-size="16" fill="#e3352a">←</text>
<text x="378" y="1260" font-size="16">500 bp</text><text x="378" y="1277" font-size="16">300 bp</text>
<!-- gel3 -->
<rect x="439" y="1194" width="106" height="88" fill="#e6e6e6"/>
<g fill="#333" filter="url(#bl)"><rect x="443" y="1234" width="14" height="2.5"/><rect x="443" y="1240" width="14" height="2.5"/><rect x="443" y="1246" width="14" height="2.5"/><rect x="443" y="1252" width="14" height="2.5"/><rect x="443" y="1259" width="14" height="2"/><rect x="443" y="1269" width="14" height="2"/><rect x="443" y="1277" width="14" height="2"/></g>
<rect x="467" y="1205" width="14" height="60" fill="#ccc" filter="url(#bl2)"/>
<ellipse cx="474" cy="1257" rx="8" ry="4" fill="#000" filter="url(#bl)"/>
<ellipse cx="500" cy="1270" rx="8" ry="3" fill="#111" filter="url(#bl)"/><rect x="493" y="1272" width="14" height="10" fill="#999" filter="url(#bl)"/>
<rect x="520" y="1205" width="14" height="72" fill="#bbb" filter="url(#bl2)"/><ellipse cx="527" cy="1259" rx="7" ry="2" fill="#222" filter="url(#bl)"/><ellipse cx="527" cy="1272" rx="7" ry="2.5" fill="#555" filter="url(#bl)"/>
<text x="548" y="1265" font-size="16" fill="#e3352a">←</text>
<text x="573" y="1261" font-size="16">250 bp</text><text x="573" y="1277" font-size="16">100 bp</text>
<!-- gel4 -->
<rect x="633" y="1194" width="87" height="86" fill="#e6e6e6"/>
<g fill="#555" filter="url(#bl)"><rect x="637" y="1205" width="13" height="2"/><rect x="637" y="1222" width="13" height="2"/><rect x="637" y="1232" width="13" height="2"/><rect x="637" y="1241" width="13" height="2"/><rect x="637" y="1253" width="13" height="2"/><rect x="637" y="1263" width="13" height="2"/><rect x="637" y="1271" width="13" height="2"/></g>
<rect x="656" y="1200" width="13" height="55" fill="#ccc" filter="url(#bl2)"/>
<ellipse cx="662" cy="1261" rx="8" ry="4" fill="#000" filter="url(#bl)"/>
<ellipse cx="686" cy="1266" rx="7" ry="3" fill="#444" filter="url(#bl)"/><ellipse cx="709" cy="1265" rx="7" ry="3.5" fill="#333" filter="url(#bl)"/>
<text x="721" y="1268" font-size="16" fill="#e3352a">←</text>

<!-- ================= H ================= -->
<text x="2" y="1342" font-size="20" font-weight="bold">H</text>
<text transform="translate(96,1385) rotate(-60)" font-size="15" font-style="italic">shCtrl</text>
<text x="125" y="1363" font-size="16">shRRN3</text>
<path d="M113,1369 H208" stroke="#000" stroke-width="2"/>
<g font-size="16" text-anchor="middle"><text x="134" y="1387">#1</text><text x="160" y="1387">#2</text><text x="186" y="1387">#3</text></g>
<g font-size="12" text-anchor="end"><text x="68" y="1394">kDa</text><text x="66" y="1410">20</text><text x="66" y="1432">15</text><text x="68" y="1453">100</text><text x="66" y="1475">70</text><text x="66" y="1491">50</text><text x="66" y="1513">40</text></g>
<g stroke="#000" stroke-width="1.5" fill="none"><path d="M67,1405 h6 M67,1427 h6 M67,1449 h6 M67,1470 h6 M67,1486 h6 M67,1508 h6"/></g>
<rect x="73" y="1389" width="135" height="52" fill="#ececec" stroke="#000" stroke-width="1.5"/>
<rect x="73" y="1444" width="135" height="35" fill="#f2f2f2" stroke="#000" stroke-width="1.5"/>
<rect x="73" y="1482" width="135" height="36" fill="#f0f0f0" stroke="#000" stroke-width="1.5"/>
<g filter="url(#bl)">
<ellipse cx="92" cy="1406" rx="9" ry="2" fill="#999"/><ellipse cx="120" cy="1405" rx="10" ry="2.5" fill="#888"/><ellipse cx="147" cy="1405" rx="10" ry="2.5" fill="#888"/><ellipse cx="174" cy="1405" rx="10" ry="2.5" fill="#888"/>
<ellipse cx="92" cy="1427" rx="11" ry="3.5" fill="#111"/><ellipse cx="120" cy="1426" rx="13" ry="5" fill="#000"/><ellipse cx="147" cy="1426" rx="11" ry="4.5" fill="#000"/><ellipse cx="174" cy="1426" rx="13" ry="5" fill="#000"/>
<ellipse cx="91" cy="1465" rx="10" ry="2.5" fill="#111"/><ellipse cx="118" cy="1466" rx="10" ry="2" fill="#444"/><ellipse cx="146" cy="1465" rx="9" ry="1.8" fill="#555"/><ellipse cx="172" cy="1465" rx="9" ry="1.8" fill="#666"/>
<ellipse cx="92" cy="1501" rx="11" ry="3" fill="#111"/><ellipse cx="119" cy="1502" rx="10" ry="3" fill="#111"/><ellipse cx="146" cy="1501" rx="10" ry="3" fill="#111"/><ellipse cx="173" cy="1501" rx="11" ry="3.3" fill="#111"/>
</g>
<g font-size="16"><text x="212" y="1413">LC3 I</text><text x="212" y="1434">LC3 II</text><text x="212" y="1471">RRN3</text><text x="212" y="1508">β-actin</text></g>

<!-- ================= I ================= -->
<text x="315" y="1342" font-size="20" font-weight="bold">I</text>
<rect x="378" y="1323" width="366" height="230" fill="#000"/>
<path d="M499,1323 V1553 M620,1323 V1553" stroke="#fff" stroke-width="1.5"/>
<path d="M378,1438 H744" stroke="#999" stroke-width="1.2"/>
<g fill="#2fa82f" opacity="0.55" filter="url(#bl2)">
<ellipse cx="440" cy="1370" rx="6" ry="10"/><ellipse cx="473" cy="1393" rx="5" ry="9"/><ellipse cx="420" cy="1398" rx="8" ry="6"/><ellipse cx="455" cy="1420" rx="5" ry="7"/><ellipse cx="393" cy="1345" rx="3" ry="5"/>
<ellipse cx="538" cy="1380" rx="6" ry="11"/><ellipse cx="580" cy="1360" rx="8" ry="7"/><ellipse cx="560" cy="1410" rx="10" ry="6"/><ellipse cx="600" cy="1428" rx="5" ry="5"/>
<ellipse cx="690" cy="1350" rx="5" ry="5"/><ellipse cx="667" cy="1373" rx="3" ry="7"/><ellipse cx="660" cy="1398" rx="3" ry="5"/><ellipse cx="676" cy="1420" rx="3" ry="5"/>
</g>
<g fill="#a82818" opacity="0.75" filter="url(#bl)">
<path d="M380,1450 L420,1445 L445,1470 L440,1520 L400,1545 L382,1530 Z"/>
<path d="M430,1480 L480,1470 L495,1530 L460,1550 L430,1530 Z"/>
<path d="M460,1440 L495,1445 L490,1470 L465,1465 Z"/>
<path d="M505,1445 L560,1440 L600,1470 L615,1520 L570,1550 L505,1550 Z"/>
<path d="M560,1440 L618,1445 L618,1500 L580,1490 Z"/>
<path d="M675,1455 L700,1450 L705,1480 L685,1495 L665,1480 Z"/>
<path d="M642,1460 L665,1458 L670,1495 L650,1500 Z"/>
<path d="M645,1500 L665,1505 L660,1530 L642,1525 Z"/>
</g>
<g fill="#2a38d0" opacity="0.9">
<ellipse cx="390" cy="1462" rx="5" ry="6"/><ellipse cx="415" cy="1480" rx="5" ry="6"/><ellipse cx="445" cy="1478" rx="4" ry="6"/><ellipse cx="440" cy="1500" rx="5" ry="6"/><ellipse cx="465" cy="1510" rx="5" ry="6"/><ellipse cx="408" cy="1520" rx="4" ry="5"/><ellipse cx="433" cy="1452" rx="4" ry="6"/>
<ellipse cx="530" cy="1458" rx="5" ry="6"/><ellipse cx="545" cy="1490" rx="5" ry="6"/><ellipse cx="578" cy="1490" rx="5" ry="6"/><ellipse cx="588" cy="1478" rx="5" ry="6"/><ellipse cx="560" cy="1520" rx="6" ry="6"/><ellipse cx="520" cy="1528" rx="5" ry="7"/><ellipse cx="540" cy="1472" rx="5" ry="7"/>
<ellipse cx="687" cy="1470" rx="5" ry="6"/><ellipse cx="655" cy="1483" rx="4" ry="6"/><ellipse cx="650" cy="1510" rx="4" ry="6"/><ellipse cx="700" cy="1470" rx="3" ry="7"/>
</g>
<g font-size="16" fill="#fff"><text x="382" y="1346">shCtrl</text><text x="510" y="1346">shRRN3  #1</text><text x="628" y="1346">shRRN3   #2</text></g>
<g font-size="13" fill="#fff"><text x="459" y="1550">10μm</text><text x="582" y="1550">10μm</text><text x="704" y="1550">10μm</text></g>
<g fill="#fff"><rect x="463" y="1533" width="5" height="2"/><rect x="586" y="1533" width="5" height="2"/><rect x="708" y="1533" width="5" height="2"/></g>
<text transform="translate(372,1381) rotate(-90)" font-size="16" fill="#2cb82c" text-anchor="middle">LC3</text>
<text transform="translate(358,1495) rotate(-90)" font-size="16" text-anchor="middle"><tspan fill="#2cb82c">LC3</tspan><tspan fill="#2a2aa8">/DAPI</tspan></text>
<text transform="translate(373,1495) rotate(-90)" font-size="16" text-anchor="middle"><tspan fill="#000">/</tspan><tspan fill="#e3352a">Phalloidin</tspan></text>
<!-- bar chart -->
<text transform="translate(778,1425) rotate(-90)" font-size="15" text-anchor="middle">Number of LC3</text>
<text transform="translate(794,1425) rotate(-90)" font-size="15" text-anchor="middle">puncta per  cell</text>
<g stroke="#000" stroke-width="1.5" fill="none"><path d="M833,1336 V1511 H950"/><path d="M828,1336 h5 M828,1394.5 h5 M828,1453 h5 M828,1511 h5"/><path d="M856,1511 v6 M891,1511 v6 M926,1511 v6"/></g>
<g font-size="17" text-anchor="end"><text x="827" y="1342">60</text><text x="827" y="1400">40</text><text x="827" y="1459">20</text><text x="827" y="1517">0</text></g>
<rect x="846" y="1490.5" width="22" height="20.5" fill="none" stroke="#2a3ab0" stroke-width="1.4"/>
<rect x="881" y="1429" width="22" height="82" fill="none" stroke="#e3352a" stroke-width="1.4"/>
<rect x="915" y="1441" width="22" height="70" fill="none" stroke="#3ad02a" stroke-width="1.4"/>
<g fill="#2a3ab0"><circle cx="850" cy="1496" r="0.9"/><circle cx="854" cy="1492" r="0.9"/><circle cx="858" cy="1488" r="0.9"/><circle cx="862" cy="1494" r="0.9"/><circle cx="856" cy="1484" r="0.9"/><circle cx="852" cy="1502" r="0.9"/><circle cx="860" cy="1500" r="0.9"/><circle cx="864" cy="1505" r="0.9"/><circle cx="856" cy="1478" r="0.9"/><circle cx="856" cy="1470" r="0.9"/><circle cx="856" cy="1460" r="0.9"/><circle cx="850" cy="1485" r="0.9"/><circle cx="862" cy="1482" r="0.9"/><circle cx="849" cy="1508" r="0.9"/><circle cx="858" cy="1507" r="0.9"/><circle cx="852" cy="1497" r="0.9"/><circle cx="860" cy="1492" r="0.9"/><circle cx="866" cy="1498" r="0.9"/></g>
<g fill="#e3352a"><circle cx="885" cy="1380" r="0.9"/><circle cx="889" cy="1380" r="0.9"/><circle cx="894" cy="1380" r="0.9"/><circle cx="891" cy="1390" r="0.9"/><circle cx="891" cy="1400" r="0.9"/><circle cx="888" cy="1410" r="0.9"/><circle cx="895" cy="1415" r="0.9"/><circle cx="885" cy="1425" r="0.9"/><circle cx="898" cy="1428" r="0.9"/><circle cx="887" cy="1435" r="0.9"/><circle cx="895" cy="1440" r="0.9"/><circle cx="884" cy="1445" r="0.9"/><circle cx="891" cy="1450" r="0.9"/><circle cx="899" cy="1455" r="0.9"/><circle cx="887" cy="1462" r="0.9"/><circle cx="891" cy="1475" r="0.9"/><circle cx="891" cy="1485" r="0.9"/></g>
<g fill="#3ad02a"><circle cx="926" cy="1352" r="0.8"/><circle cx="926" cy="1380" r="0.8"/><circle cx="926" cy="1395" r="0.8"/><circle cx="926" cy="1405" r="0.8"/><circle cx="922" cy="1418" r="0.8"/><circle cx="930" cy="1425" r="0.8"/><circle cx="920" cy="1435" r="0.8"/><circle cx="932" cy="1440" r="0.8"/><circle cx="924" cy="1450" r="0.8"/><circle cx="929" cy="1458" r="0.8"/><circle cx="921" cy="1465" r="0.8"/><circle cx="931" cy="1472" r="0.8"/><circle cx="925" cy="1478" r="0.8"/></g>
<path d="M877,1429 H907 M891,1424 V1434 M911,1441 H941 M926,1436 V1446 M849,1490 H864" stroke="#000" stroke-width="1" fill="none"/>
<path d="M856,1344 V1334 H926 V1344 M856,1375 V1365 H891 V1375" fill="none" stroke="#000" stroke-width="1.2"/>
<g font-size="13" text-anchor="middle"><text x="891" y="1333">***</text><text x="873" y="1364">***</text></g>
<text transform="translate(868,1528) rotate(-60)" font-size="16" text-anchor="end">shCtrl</text>
<g font-size="17" text-anchor="middle"><text x="892" y="1538">#1</text><text x="928" y="1538">#2</text></g>
<path d="M875,1542 H945" stroke="#000" stroke-width="1.2"/>
<text x="910" y="1561" font-size="17" text-anchor="middle">shRRN3</text>
</svg>
</body></html>
